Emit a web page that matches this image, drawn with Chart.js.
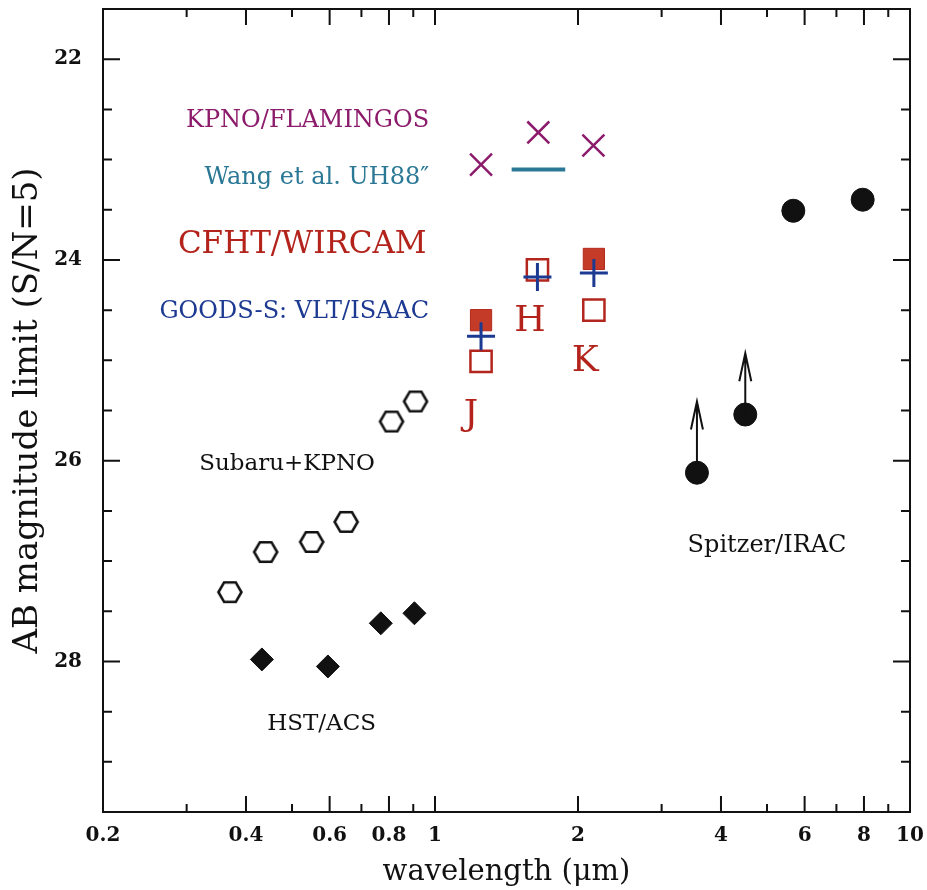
<!DOCTYPE html>
<html>
<head>
<meta charset="utf-8">
<script src="https://cdn.jsdelivr.net/npm/chart.js@4.4.1/dist/chart.umd.min.js"></script>
<style>
  html, body { margin: 0; padding: 0; background: #fff; }
</style>
</head>
<body>
<canvas id="plot" width="927" height="890"></canvas>
<script>
// valeurs (longueur d'onde en micron, magnitude AB limite)
const subaruWl = [0.37, 0.44, 0.55, 0.65, 0.81, 0.91];
const subaruMag = [27.31, 26.91, 26.81, 26.61, 25.61, 25.41];
const acsWl = [0.432, 0.595, 0.769, 0.905];
const acsMag = [27.98, 28.05, 27.62, 27.52];
const flamingosWl = [1.25, 1.65, 2.155];
const flamingosMag = [23.05, 22.73, 22.86];
const wangWl = [1.45, 1.88];
const wangMag = [23.10, 23.10];
const wircamWl = [1.25, 2.16];
const wircamMag = [24.60, 23.99];
const wircamOpenWl = [1.25, 1.643, 2.16];
const wircamOpenMag = [25.01, 24.10, 24.50];
const isaacWl = [1.25, 1.643, 2.16];
const isaacMag = [24.76, 24.17, 24.13];
const iracWl = [3.56, 4.5, 5.68, 7.95];
const iracMag = [26.12, 25.54, 23.51, 23.40];
const iracLimitTo = [25.41, 24.93, null, null];

const xTicks = [0.2, 0.4, 0.6, 0.8, 1, 2, 4, 6, 8, 10];
const xMinorTicks = [0.3, 0.5, 0.7, 0.9, 3, 5, 7, 9];
const yTicks = [22, 24, 26, 28];
const yMinorTicks = [22.5, 23, 23.5, 24.5, 25, 25.5, 26.5, 27, 27.5, 28.5, 29];

const SERIF = '"DejaVu Serif", serif';

// textes dans le graphique
const notes = [
  { text: 'KPNO/FLAMINGOS', x: 0.972, y: 22.61, color: '#8c1b6b', size: 24, align: 'right' },
  { text: 'Wang et al. UH88\u2033', x: 0.972, y: 23.18, color: '#2a7896', size: 24, align: 'right' },
  { text: 'CFHT/WIRCAM', x: 0.960, y: 23.85, color: '#b3231b', size: 31, align: 'right' },
  { text: 'GOODS-S: VLT/ISAAC', x: 0.972, y: 24.52, color: '#1d3a92', size: 24, align: 'right' },
  { text: 'H', x: 1.585, y: 24.61, color: '#b3231b', size: 36, align: 'center' },
  { text: 'K', x: 2.07, y: 25.01, color: '#b3231b', size: 36, align: 'center' },
  { text: 'J', x: 1.19, y: 25.55, color: '#b3231b', size: 36, align: 'center' },
  { text: 'Subaru+KPNO', x: 0.488, y: 26.03, color: '#111', size: 23, align: 'center' },
  { text: 'HST/ACS', x: 0.577, y: 28.62, color: '#111', size: 23, align: 'center' },
  { text: 'Spitzer/IRAC', x: 5.0, y: 26.85, color: '#111', size: 24, align: 'center' }
];

function hexagon() {
  const c = document.createElement('canvas');
  c.width = 28; c.height = 26;
  const g = c.getContext('2d');
  g.strokeStyle = '#111';
  g.lineWidth = 2.6;
  g.beginPath();
  g.moveTo(2.5, 13); g.lineTo(8.2, 3.2); g.lineTo(19.8, 3.2);
  g.lineTo(25.5, 13); g.lineTo(19.8, 22.8); g.lineTo(8.2, 22.8);
  g.closePath();
  g.fillStyle = '#fff';
  g.fill();
  g.stroke();
  return c;
}

const pts = (xs, ys) => xs.map((x, i) => ({ x: x, y: ys[i] }));

const frameTicks = {
  id: 'frameTicks',
  afterDraw(chart) {
    const { ctx, chartArea: a, scales: { x, y } } = chart;
    ctx.save();
    ctx.strokeStyle = '#111';
    ctx.lineWidth = 2;
    ctx.strokeRect(a.left, a.top, a.right - a.left, a.bottom - a.top);
    const tick = (v, len, isX) => {
      ctx.beginPath();
      if (isX) {
        const p = x.getPixelForValue(v);
        ctx.moveTo(p, a.bottom); ctx.lineTo(p, a.bottom - len);
        ctx.moveTo(p, a.top); ctx.lineTo(p, a.top + len);
      } else {
        const p = y.getPixelForValue(v);
        ctx.moveTo(a.left, p); ctx.lineTo(a.left + len, p);
        ctx.moveTo(a.right, p); ctx.lineTo(a.right - len, p);
      }
      ctx.stroke();
    };
    xTicks.forEach(v => tick(v, 16, true));
    xMinorTicks.forEach(v => tick(v, 8, true));
    yTicks.forEach(v => tick(v, 17, false));
    yMinorTicks.forEach(v => tick(v, 9, false));
    ctx.restore();
  }
};

const arrows = {
  id: 'arrows',
  afterDatasetsDraw(chart) {
    const { ctx, scales: { x, y } } = chart;
    ctx.save();
    ctx.strokeStyle = '#111';
    ctx.lineWidth = 2;
    iracWl.forEach((wl, i) => {
      if (iracLimitTo[i] == null) return;
      const px = x.getPixelForValue(wl);
      const y0 = y.getPixelForValue(iracMag[i]);
      const y1 = y.getPixelForValue(iracLimitTo[i]);
      ctx.beginPath();
      ctx.moveTo(px, y0); ctx.lineTo(px, y1);
      ctx.moveTo(px - 6, y1 + 28); ctx.lineTo(px, y1); ctx.lineTo(px + 6, y1 + 28);
      ctx.stroke();
    });
    ctx.restore();
  }
};

const labels = {
  id: 'labels',
  afterDraw(chart) {
    const { ctx, scales: { x, y } } = chart;
    ctx.save();
    ctx.textBaseline = 'middle';
    notes.forEach(n => {
      ctx.font = n.size + 'px ' + SERIF;
      ctx.fillStyle = n.color;
      ctx.textAlign = n.align;
      ctx.fillText(n.text, x.getPixelForValue(n.x), y.getPixelForValue(n.y));
    });
    ctx.restore();
  }
};

// on enleve les marges que Chart.js ajoute pour les etiquettes
const noPad = s => { s.paddingTop = 0; s.paddingBottom = 0; s.paddingLeft = 0; s.paddingRight = 0; };

new Chart(document.getElementById('plot'), {
  type: 'scatter',
  data: {
    datasets: [
      {
        label: 'GOODS-S: VLT/ISAAC',
        data: pts(isaacWl, isaacMag),
        pointStyle: 'cross',
        pointRadius: 14,
        borderColor: '#1d3a92',
        borderWidth: 3
      },
      {
        label: 'CFHT/WIRCAM',
        data: pts(wircamWl, wircamMag),
        pointStyle: 'rect',
        pointRadius: 15,
        backgroundColor: '#c43c28',
        borderColor: '#b3281c',
        borderWidth: 1
      },
      {
        label: 'CFHT/WIRCAM (open)',
        data: pts(wircamOpenWl, wircamOpenMag),
        pointStyle: 'rect',
        pointRadius: 15,
        backgroundColor: '#fff',
        borderColor: '#b3261e',
        borderWidth: 2.5
      },
      {
        label: 'KPNO/FLAMINGOS',
        data: pts(flamingosWl, flamingosMag),
        pointStyle: 'crossRot',
        pointRadius: 15.5,
        borderColor: '#8c1b6b',
        borderWidth: 2.5
      },
      {
        label: 'Wang et al. UH88',
        data: pts(wangWl, wangMag),
        showLine: true,
        pointRadius: 0,
        borderColor: '#2a7896',
        borderWidth: 4
      },
      {
        label: 'Subaru+KPNO',
        data: pts(subaruWl, subaruMag),
        pointStyle: hexagon()
      },
      {
        label: 'HST/ACS',
        data: pts(acsWl, acsMag),
        pointStyle: 'rectRot',
        pointRadius: 11.5,
        backgroundColor: '#111',
        borderColor: '#111',
        borderWidth: 1
      },
      {
        label: 'Spitzer/IRAC',
        data: pts(iracWl, iracMag),
        pointStyle: 'circle',
        pointRadius: 11.5,
        backgroundColor: '#111',
        borderColor: '#111',
        borderWidth: 1
      }
    ]
  },
  options: {
    responsive: false,
    animation: false,
    devicePixelRatio: 1,
    layout: { autoPadding: false, padding: { top: 9, right: 17, left: 0, bottom: 0 } },
    plugins: {
      legend: { display: false },
      tooltip: { enabled: false }
    },
    scales: {
      x: {
        type: 'logarithmic',
        min: 0.2,
        max: 10,
        afterBuildTicks: s => { s.ticks = xTicks.map(v => ({ value: v })); },
        afterFit: s => { s.height = 78; noPad(s); },
        ticks: {
          callback: v => String(v),
          autoSkip: false,
          maxRotation: 0,
          padding: 12,
          color: '#111',
          font: { family: SERIF, size: 20, weight: 'bold' }
        },
        grid: { display: false, drawTicks: false },
        border: { display: false },
        title: {
          display: true,
          text: 'wavelength (\u03bcm)',
          color: '#111',
          font: { family: SERIF, size: 29 },
          padding: { top: 0, bottom: 0 }
        }
      },
      y: {
        min: 21.5,
        max: 29.5,
        reverse: true,
        afterBuildTicks: s => { s.ticks = yTicks.map(v => ({ value: v })); },
        afterFit: s => { s.width = 103; noPad(s); },
        ticks: {
          callback: v => String(v),
          padding: 21,
          color: '#111',
          font: { family: SERIF, size: 20, weight: 'bold' }
        },
        grid: { display: false, drawTicks: false },
        border: { display: false },
        title: {
          display: true,
          text: 'AB magnitude limit (S/N=5)',
          color: '#111',
          font: { family: SERIF, size: 34 },
          padding: { top: 8, bottom: 0 }
        }
      }
    }
  },
  plugins: [frameTicks, arrows, labels]
});
</script>
</body>
</html>
